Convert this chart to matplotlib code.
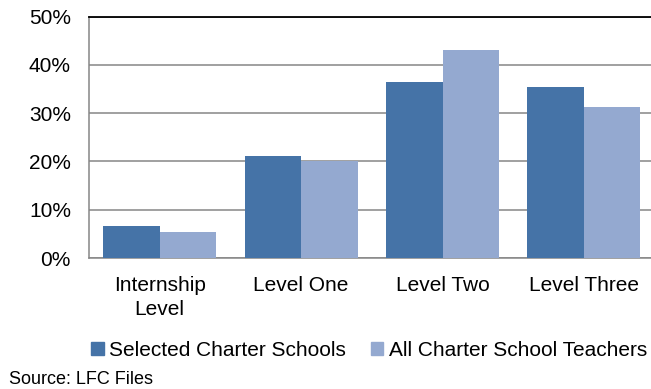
import numpy as np
import matplotlib
matplotlib.use("Agg")
import matplotlib.pyplot as plt
from matplotlib.patches import Patch
from matplotlib.ticker import PercentFormatter

plt.rcParams['font.family'] = ['Liberation Sans', 'DejaVu Sans']

# ---- datos ----
niveles = ["Internship\nLevel", "Level One", "Level Two", "Level Three"]
selected_charter = [6.7, 21.1, 36.5, 35.5]
all_charter_teachers = [5.3, 20.1, 43.1, 31.2]
series_labels = ["Selected Charter Schools", "All Charter School Teachers"]
y_ticks = [0, 10, 20, 30, 40, 50]
fuente = "Source: LFC Files"

COLOR_OSCURO = "#4573a7"
COLOR_CLARO = "#94a9d0"
GRIS = "#868686"

W, H = 651, 389
fig = plt.figure(figsize=(W / 100, H / 100), dpi=100)
ax = fig.add_axes([89 / W, 1 - 258 / H, (654.6 - 89) / W, (258 - 16.5) / H])

x = np.arange(len(niveles))
ancho = 0.4
ax.bar(x - ancho / 2, selected_charter, ancho, color=COLOR_OSCURO, zorder=3)
ax.bar(x + ancho / 2, all_charter_teachers, ancho, color=COLOR_CLARO, zorder=3)

ax.set_xlim(-0.5, len(niveles) - 0.5)
ax.set_ylim(0, 50)
ax.set_yticks(y_ticks)
ax.yaxis.set_major_formatter(PercentFormatter(decimals=0))
ax.set_xticks(x)
ax.set_xticklabels(niveles, linespacing=1.35)

ax.grid(axis='y', color=GRIS, linewidth=1.1, zorder=0)
ax.tick_params(axis='both', length=0, labelsize=15)
ax.tick_params(axis='y', pad=13)
ax.tick_params(axis='x', pad=13)

for lado in ['left', 'bottom']:
    ax.spines[lado].set_color(GRIS)
    ax.spines[lado].set_linewidth(1.1)
ax.spines['right'].set_visible(False)
ax.spines['top'].set_color('black')
ax.spines['top'].set_linewidth(1.3)

handles = [Patch(color=COLOR_OSCURO), Patch(color=COLOR_CLARO)]
fig.legend(handles, series_labels, loc='center', bbox_to_anchor=(369 / W, 1 - 350 / H),
           ncol=2, frameon=False, fontsize=15, handlelength=0.6, handleheight=0.6,
           handletextpad=0.25, columnspacing=1.2, borderaxespad=0)

fig.text(9 / W, 1 - 380 / H, fuente, fontsize=13, va='center', ha='left')

fig.savefig("out.png", dpi=100)
